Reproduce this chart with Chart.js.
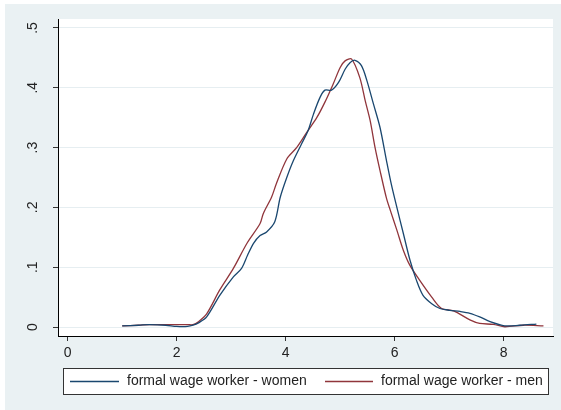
<!DOCTYPE html>
<html>
<head>
<meta charset="utf-8">
<script src="https://cdn.jsdelivr.net/npm/chart.js@4/dist/chart.umd.min.js"></script>
<style>
    html, body { margin: 0; padding: 0; background: #ffffff; }
    #wrap { width: 561px; height: 410px; }
</style>
</head>
<body>
<div id="wrap"><canvas id="densityChart" width="561" height="410"></canvas></div>
<script>
// kernel density estimates, log wage
const womenX = [1.0, 1.3, 1.5, 1.8, 2.0, 2.2, 2.3, 2.4, 2.55, 2.79, 3.04, 3.19, 3.3, 3.41, 3.53, 3.65, 3.8, 3.9, 4.02, 4.14, 4.29, 4.41, 4.51, 4.63, 4.72, 4.84, 4.97, 5.09, 5.18, 5.27, 5.39, 5.49, 5.61, 5.73, 5.85, 5.94, 6.04, 6.16, 6.28, 6.4, 6.52, 6.68, 6.83, 7.01, 7.2, 7.38, 7.56, 7.75, 8.02, 8.3, 8.6];
const womenY = [0.002, 0.003, 0.004, 0.003, 0.001, 0.001, 0.003, 0.007, 0.017, 0.053, 0.084, 0.098, 0.12, 0.14, 0.153, 0.159, 0.176, 0.217, 0.25, 0.278, 0.306, 0.328, 0.356, 0.384, 0.396, 0.396, 0.409, 0.431, 0.442, 0.446, 0.437, 0.412, 0.373, 0.334, 0.278, 0.238, 0.2, 0.156, 0.112, 0.078, 0.053, 0.039, 0.031, 0.028, 0.026, 0.023, 0.017, 0.009, 0.002, 0.003, 0.005];

const menX = [1.0, 1.3, 1.5, 1.8, 2.0, 2.2, 2.3, 2.4, 2.55, 2.79, 3.04, 3.29, 3.53, 3.59, 3.74, 3.83, 4.02, 4.2, 4.39, 4.57, 4.72, 4.87, 5.0, 5.09, 5.21, 5.36, 5.46, 5.55, 5.64, 5.73, 5.85, 5.92, 6.04, 6.16, 6.28, 6.46, 6.68, 6.86, 7.08, 7.38, 7.56, 7.81, 8.02, 8.36, 8.73];
const menY = [0.002, 0.003, 0.004, 0.004, 0.004, 0.004, 0.004, 0.009, 0.022, 0.062, 0.098, 0.14, 0.173, 0.19, 0.217, 0.24, 0.281, 0.3, 0.326, 0.35, 0.376, 0.406, 0.434, 0.445, 0.448, 0.417, 0.378, 0.345, 0.3, 0.262, 0.215, 0.195, 0.162, 0.128, 0.103, 0.078, 0.05, 0.031, 0.027, 0.012, 0.006, 0.0045, 0.0005, 0.003, 0.002];

const xTicks = [0, 2, 4, 6, 8];
const yTicks = [0, 0.1, 0.2, 0.3, 0.4, 0.5];
const yTickLabels = ['0', '.1', '.2', '.3', '.4', '.5'];
const seriesNames = ['formal wage worker - women', 'formal wage worker - men'];

const NAVY = '#1a476f';
const MAROON = '#90353b';
const REGION_BG = '#eaf1f3';
const FONT = '"Liberation Sans", Arial, sans-serif';

function toPoints(xs, ys) {
    return xs.map((x, i) => ({ x: x, y: ys[i] }));
}

// outer region + white plot area
const backgroundPlugin = {
    id: 'regionBackground',
    beforeDraw(chart) {
        const ctx = chart.ctx;
        const a = chart.chartArea;
        ctx.save();
        ctx.fillStyle = REGION_BG;
        ctx.fillRect(5, 4, chart.width - 5, chart.height - 4);
        ctx.fillStyle = '#ffffff';
        ctx.fillRect(a.left, a.top, a.right - a.left, a.bottom - a.top);
        ctx.restore();
    }
};

// vertical y labels and the boxed legend below the axis
const decorPlugin = {
    id: 'decor',
    afterDraw(chart) {
        const ctx = chart.ctx;
        const yScale = chart.scales.y;
        ctx.save();
        ctx.font = '14px ' + FONT;
        ctx.fillStyle = '#222222';
        ctx.textAlign = 'center';
        ctx.textBaseline = 'middle';
        yTicks.forEach((v, i) => {
            const py = yScale.getPixelForValue(v);
            ctx.save();
            ctx.translate(33, py);
            ctx.rotate(-Math.PI / 2);
            ctx.fillText(yTickLabels[i], 0, 0);
            ctx.restore();
        });

        // legend box
        const bx = 63, by = 368, bw = 485, bh = 26;
        ctx.fillStyle = '#ffffff';
        ctx.fillRect(bx, by, bw, bh);
        ctx.strokeStyle = '#333333';
        ctx.lineWidth = 1;
        ctx.strokeRect(bx + 0.5, by + 0.5, bw, bh);

        const ly = by + bh / 2 + 0.5;
        const items = [
            { color: NAVY, x0: 70, x1: 119, tx: 127 },
            { color: MAROON, x0: 325, x1: 373, tx: 381 }
        ];
        ctx.textAlign = 'left';
        items.forEach((it, i) => {
            ctx.strokeStyle = it.color;
            ctx.lineWidth = 1.3;
            ctx.beginPath();
            ctx.moveTo(it.x0, ly);
            ctx.lineTo(it.x1, ly);
            ctx.stroke();
            ctx.fillStyle = '#222222';
            ctx.fillText(seriesNames[i], it.tx, ly);
        });
        ctx.restore();
    }
};

const ctx = document.getElementById('densityChart');
new Chart(ctx, {
    type: 'line',
    data: {
        datasets: [
            {
                label: seriesNames[0],
                data: toPoints(womenX, womenY),
                borderColor: NAVY,
                borderWidth: 1.3,
                pointRadius: 0,
                tension: 0.3,
                fill: false
            },
            {
                label: seriesNames[1],
                data: toPoints(menX, menY),
                borderColor: MAROON,
                borderWidth: 1.3,
                pointRadius: 0,
                tension: 0.3,
                fill: false
            }
        ]
    },
    options: {
        responsive: false,
        animation: false,
        devicePixelRatio: 1,
        layout: { padding: { top: 19, right: 8, bottom: 46, left: 0 } },
        plugins: {
            legend: { display: false },
            tooltip: { enabled: false }
        },
        scales: {
            x: {
                type: 'linear',
                min: -0.178,
                max: 8.905,
                afterBuildTicks: scale => { scale.ticks = xTicks.map(v => ({ value: v })); },
                afterFit: scale => { scale.height = 28; },
                border: { display: true, color: '#000000', width: 1 },
                grid: { drawOnChartArea: false, drawTicks: true, tickLength: 5, tickColor: '#333333' },
                ticks: {
                    padding: 4,
                    color: '#222222',
                    font: { family: FONT, size: 14 },
                    maxRotation: 0,
                    callback: v => String(v)
                }
            },
            y: {
                type: 'linear',
                min: -0.015,
                max: 0.515,
                afterBuildTicks: scale => { scale.ticks = yTicks.map(v => ({ value: v })); },
                afterFit: scale => { scale.width = 58; },
                border: { display: true, color: '#000000', width: 1 },
                grid: { color: '#e6eef1', lineWidth: 1, drawTicks: true, tickLength: 5, tickColor: '#333333' },
                ticks: { display: false }
            }
        }
    },
    plugins: [backgroundPlugin, decorPlugin]
});
</script>
</body>
</html>
